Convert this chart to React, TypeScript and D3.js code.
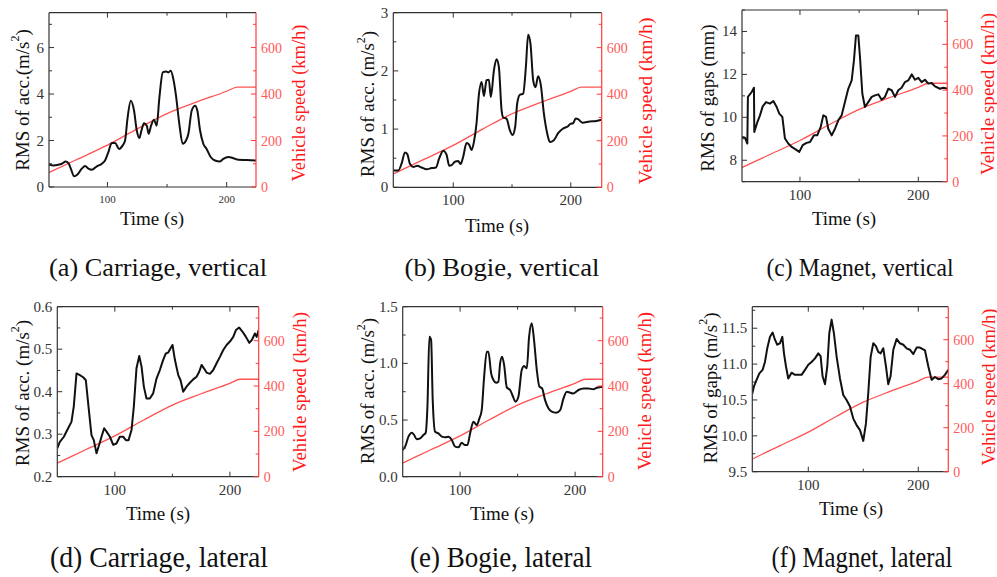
import React from "react";
import * as d3 from "d3";

const W = 997;
const H = 577;
const FONT = "Liberation Serif, Tinos, Times New Roman, Times, serif";
const BLACK = "#111";
const AXIS = "#333";
const RED = "#ff3b3b";
const RED_LINE = "#ff5252";

// vehicle speed (km/h) vs time (s), shared by all panels
const speed: [number, number][] = [
  [45, 48], [50, 60], [75, 120], [100, 180], [125, 250], [150, 316], [175, 366], [200, 412], [209, 430], [230, 430],
];

// (a) carriage vertical, RMS of acc. (m/s^2)
const carriageV: [number, number][] = [
  [51, 0.97], [54.7, 0.93], [58.9, 0.96], [61.7, 1.0], [65, 1.1], [67.3, 1.03], [69.3, 0.79], [72.1, 0.46],
  [74.9, 0.54], [78.5, 0.79], [81.3, 0.9], [84.1, 0.79], [86.9, 0.74], [91.1, 0.89], [95.3, 1.0], [98, 1.14],
  [100.8, 1.5], [103.6, 1.89], [106.4, 1.89], [109.8, 1.64], [112.8, 1.79], [114.8, 2.0], [116.8, 2.93],
  [119.6, 3.71], [122.3, 3.29], [124.6, 2.43], [126.8, 2.11], [128.5, 2.43], [130.7, 2.74], [133, 2.64],
  [134.6, 2.29], [136.6, 2.64], [139.1, 2.89], [141.3, 2.64], [143.6, 3.86], [146.4, 4.93], [149.2, 4.97],
  [151.1, 4.93], [153.1, 5.0], [155.3, 4.64], [157.5, 3.93], [160.3, 2.71], [163.1, 1.86], [165.9, 2.0],
  [167.9, 2.29], [170.7, 3.29], [173.5, 3.5], [175.4, 3.29], [177.7, 2.43], [180.4, 1.86], [183.2, 1.64],
  [186.6, 1.29], [190.2, 1.14], [194.4, 1.1], [197.2, 1.21], [201.4, 1.29], [205.6, 1.24], [209.8, 1.17],
  [216.8, 1.16], [225, 1.14],
];

// (b) bogie vertical
const bogieV: [number, number][] = [
  [49, 0.29], [53.3, 0.29], [56.1, 0.41], [58.9, 0.6], [60.9, 0.57], [63.2, 0.4], [66, 0.35], [69.4, 0.37],
  [73.1, 0.34], [77.3, 0.31], [81.6, 0.33], [85.3, 0.34], [88.1, 0.5], [91.5, 0.63], [94.3, 0.56], [96.6, 0.37],
  [98.6, 0.38], [101.4, 0.44], [104.2, 0.45], [106.2, 0.4], [108.5, 0.53], [111.3, 0.76], [113.6, 0.73],
  [115.6, 0.64], [117.6, 0.78], [119.8, 1.1], [121.8, 1.59], [124.1, 1.81], [126.1, 1.57], [128.3, 1.84],
  [130.3, 1.85], [132, 1.55], [134.6, 2.01], [136.8, 2.2], [138.8, 2.07], [141.1, 1.33], [142.5, 1.2],
  [145.3, 1.18], [148.2, 0.98], [150.4, 0.9], [152.7, 1.04], [154.4, 1.44], [156.7, 1.59], [159.5, 1.61],
  [161.8, 2.07], [163.7, 2.62], [165.7, 2.47], [168, 1.84], [170, 1.72], [172.2, 1.91], [174.5, 1.76],
  [177.1, 1.27], [179.9, 0.93], [182.2, 0.78], [185.6, 0.81], [189.2, 0.93], [193.5, 1.01], [197.7, 1.05],
  [199.7, 1.09], [202, 1.1], [204.2, 1.18], [206.2, 1.17], [209.9, 1.11], [216.1, 1.13], [221.8, 1.14], [226, 1.16],
];

// (c) magnet vertical, RMS of gaps (mm)
const magnetV: [number, number][] = [
  [51, 9.09], [53.5, 9.05], [55.5, 8.78], [56, 10.95], [59.2, 11.18], [61.1, 11.38], [61.4, 9.32], [64, 9.78],
  [66.2, 10.09], [68.5, 10.51], [71.3, 10.71], [74.6, 10.64], [77.5, 10.76], [80.3, 10.48], [82.5, 10.17],
  [85.1, 10.02], [87.3, 9.01], [90.1, 8.78], [93, 8.62], [97.2, 8.47], [99.4, 8.39], [102.3, 8.7], [105.6, 8.81],
  [108.5, 8.85], [111.8, 9.16], [114.6, 9.16], [117.5, 9.55], [119.7, 10.09], [122, 10.02], [123.9, 9.47],
  [126.8, 9.16], [129.6, 9.47], [132.4, 9.86], [135.2, 10.09], [138, 10.71], [140.8, 11.33], [143.7, 11.72],
  [145.6, 12.65], [147.3, 13.81], [149.3, 13.81], [150.7, 12.81], [152.7, 11.1], [154.9, 10.48], [157.7, 10.71],
  [160.6, 10.95], [163.4, 11.02], [166.2, 11.07], [169, 10.82], [171.8, 10.95], [174.6, 11.33], [177.5, 11.26],
  [180.3, 10.95], [183.1, 11.26], [185.9, 11.38], [188.7, 11.64], [191.5, 11.72], [194.4, 12.0], [197.2, 11.75],
  [200, 11.84], [202.8, 11.64], [205.6, 11.75], [208.5, 11.57], [211.3, 11.6], [214.1, 11.44], [218.3, 11.33],
  [221.1, 11.38], [225, 11.33],
];

// (d) carriage lateral
const carriageL: [number, number][] = [
  [50, 0.267], [52.2, 0.282], [55.7, 0.294], [59.4, 0.314], [62.3, 0.329], [64.3, 0.365], [66.7, 0.443],
  [69.6, 0.439], [72.5, 0.434], [74.8, 0.427], [76.8, 0.373], [79.7, 0.298], [81.7, 0.286], [84.1, 0.255],
  [86.4, 0.275], [88.4, 0.294], [90.7, 0.314], [92.8, 0.306], [95.7, 0.294], [98.6, 0.275], [101.4, 0.278],
  [104.3, 0.294], [107.2, 0.294], [109.6, 0.286], [111.9, 0.286], [114.5, 0.31], [116.5, 0.365], [118.8, 0.455],
  [121.2, 0.484], [123.2, 0.459], [125.2, 0.412], [127.5, 0.384], [130.4, 0.384], [133.3, 0.396], [136.2, 0.431],
  [139.1, 0.451], [142, 0.475], [144.3, 0.49], [146.4, 0.492], [148.4, 0.502], [150.1, 0.51], [152.2, 0.475],
  [155.1, 0.439], [157.1, 0.427], [159.4, 0.4], [162.3, 0.412], [165.2, 0.421], [168.1, 0.429], [171, 0.435],
  [173.3, 0.447], [175.4, 0.463], [177.4, 0.455], [179.7, 0.445], [182.6, 0.442], [185.5, 0.451], [188.4, 0.467],
  [191.3, 0.482], [194.2, 0.498], [197.1, 0.51], [200, 0.518], [202.9, 0.529], [205.2, 0.545], [208.1, 0.551],
  [211, 0.541], [213.9, 0.529], [216.8, 0.515], [219.1, 0.522], [221.7, 0.537], [223.2, 0.529], [225, 0.545],
];

// (e) bogie lateral
const bogieL: [number, number][] = [
  [50, 0.235], [52.2, 0.265], [55.1, 0.353], [58, 0.388], [60, 0.368], [62.3, 0.33], [65.2, 0.338], [68.1, 0.368],
  [70.1, 0.388], [71.6, 0.618], [73.3, 1.235], [74.8, 1.206], [76.2, 0.676], [78.3, 0.397], [81.2, 0.382],
  [84.1, 0.353], [87, 0.347], [89.9, 0.353], [92.8, 0.324], [95.7, 0.265], [98.6, 0.259], [101.4, 0.3],
  [104.3, 0.279], [106.4, 0.279], [108.7, 0.382], [111.6, 0.485], [114.5, 0.456], [116.8, 0.515], [118.8, 0.588],
  [120.9, 0.882], [123.2, 1.103], [124.6, 1.103], [127, 0.912], [129, 0.853], [131.3, 0.829], [133.3, 0.838],
  [134.8, 1.0], [136.5, 1.059], [138.3, 0.985], [140.6, 0.788], [143.5, 0.765], [145.8, 0.712], [148.1, 0.662],
  [150.7, 0.706], [153.6, 0.941], [155.7, 0.976], [158, 0.956], [160, 1.235], [162.3, 1.353], [164.3, 1.206],
  [166.7, 0.941], [169, 0.794], [171.3, 0.779], [173.9, 0.676], [176.8, 0.603], [179.7, 0.574], [183.5, 0.565],
  [187, 0.588], [189.9, 0.691], [192.8, 0.75], [195.7, 0.741], [198.6, 0.735], [202.9, 0.765], [207.2, 0.779],
  [211.6, 0.779], [215.9, 0.771], [218.8, 0.785], [224, 0.794],
];

// (f) magnet lateral
const magnetL: [number, number][] = [
  [49.1, 10.59], [50.6, 10.69], [53, 10.78], [55.5, 10.87], [58.5, 10.92], [60.6, 11.03], [62.7, 11.22],
  [65.2, 11.38], [67.6, 11.44], [69.7, 11.34], [71.8, 11.27], [74.2, 11.29], [76.4, 11.38], [77.9, 11.15],
  [79.7, 10.97], [81.8, 10.8], [84.8, 10.88], [87.9, 10.85], [90.9, 10.85], [93.9, 10.85], [97, 10.92],
  [100, 10.99], [103, 11.03], [106.1, 11.08], [109.1, 11.15], [111.2, 11.11], [113, 10.83], [115.2, 10.72],
  [117.3, 10.97], [119.1, 11.43], [121.2, 11.62], [123.3, 11.43], [125.8, 11.1], [128.8, 10.8], [131.8, 10.57],
  [134.8, 10.5], [137.9, 10.41], [140.9, 10.24], [143.9, 10.15], [147, 10.08], [150, 9.93], [152.4, 10.17],
  [154.5, 10.59], [156.7, 11.1], [159.1, 11.29], [161.5, 11.25], [163.6, 11.17], [165.8, 11.15], [168.2, 11.22],
  [170.6, 10.97], [172.7, 10.72], [174.8, 10.83], [177.3, 11.2], [180.3, 11.35], [183.3, 11.29], [186.4, 11.27],
  [189.4, 11.22], [192.4, 11.2], [195.5, 11.14], [198.5, 11.23], [201.5, 11.23], [206.1, 11.19], [209.1, 10.97],
  [212.1, 10.78], [215.2, 10.82], [218.2, 10.79], [221.2, 10.8], [224.2, 10.85], [227.3, 10.92],
];

const timeTicks = [100, 200];
const timeMinor = [150];
const speedTicks = [0, 200, 400, 600];
const speedMinor = [100, 300, 500, 700];

const captions = [
  "(a) Carriage, vertical", "(b) Bogie, vertical", "(c) Magnet, vertical",
  "(d) Carriage, lateral", "(e) Bogie, lateral", "(f) Magnet, lateral",
];

type Panel = {
  data: [number, number][];
  xDomain: [number, number];
  yDomain: [number, number];
  yTicks: number[];
  yMinor: number[];
  yFmt: (v: number) => string;
  yTitle: string;
  smooth: boolean;
  // layout
  box: [number, number, number, number];
  yTitleX: number;
  yTitleY: number;
  vTitleX: number;
  vTitleY: number;
  vTitleLen: number;
  tTitleX: number;
  tTitleY: number;
  xTickSize: number;
};

const panels: Panel[] = [
  {
    data: carriageV, xDomain: [51, 224.6], yDomain: [0, 7.5], yTicks: [0, 2, 4, 6], yMinor: [1, 3, 5, 7],
    yFmt: d3.format("d"), yTitle: "RMS of acc.(m/s", smooth: true,
    box: [49, 12.7, 256, 187], yTitleX: 22, yTitleY: 100,
    vTitleX: 298, vTitleY: 103, vTitleLen: 157, tTitleX: 152, tTitleY: 225, xTickSize: 11,
  },
  {
    data: bogieV, xDomain: [49, 226.3], yDomain: [0, 3], yTicks: [0, 1, 2, 3], yMinor: [0.5, 1.5, 2.5],
    yFmt: d3.format("d"), yTitle: "RMS of acc. (m/s", smooth: true,
    box: [393.3, 12.7, 601.7, 187.3], yTitleX: 367.5, yTitleY: 104,
    vTitleX: 645, vTitleY: 101, vTitleLen: 167, tTitleX: 497, tTitleY: 232, xTickSize: 15,
  },
  {
    data: magnetV, xDomain: [51, 224.5], yDomain: [7, 15], yTicks: [8, 10, 12, 14], yMinor: [7, 9, 11, 13, 15],
    yFmt: d3.format("d"), yTitle: "RMS of gaps (mm)", smooth: false,
    box: [742, 10, 947.3, 181.7], yTitleX: 707.5, yTitleY: 98,
    vTitleX: 987.5, vTitleY: 94, vTitleLen: 162, tTitleX: 844, tTitleY: 225, xTickSize: 15,
  },
  {
    data: carriageL, xDomain: [50, 225], yDomain: [0.2, 0.6], yTicks: [0.2, 0.3, 0.4, 0.5, 0.6], yMinor: [0.25, 0.35, 0.45, 0.55],
    yFmt: d3.format(".1f"), yTitle: "RMS of acc. (m/s", smooth: false,
    box: [57.3, 306.7, 258.7, 476.7], yTitleX: 22, yTitleY: 393,
    vTitleX: 299, vTitleY: 392, vTitleLen: 160, tTitleX: 158, tTitleY: 520, xTickSize: 15,
  },
  {
    data: bogieL, xDomain: [50.1, 224], yDomain: [0, 1.5], yTicks: [0, 0.5, 1, 1.5], yMinor: [0.25, 0.75, 1.25],
    yFmt: d3.format(".1f"), yTitle: "RMS of acc. (m/s", smooth: true,
    box: [402.7, 306.7, 602.7, 476.7], yTitleX: 367.5, yTitleY: 391,
    vTitleX: 644, vTitleY: 391, vTitleLen: 158, tTitleX: 502, tTitleY: 520, xTickSize: 15,
  },
  {
    data: magnetL, xDomain: [49.1, 227.3], yDomain: [9.5, 11.8], yTicks: [9.5, 10, 10.5, 11, 11.5], yMinor: [9.75, 10.25, 10.75, 11.25, 11.75],
    yFmt: d3.format(".1f"), yTitle: "RMS of gaps (m/s", smooth: false,
    box: [752.3, 306.7, 948.3, 471.7], yTitleX: 710, yTitleY: 388,
    vTitleX: 988, vTitleY: 387, vTitleLen: 157, tTitleX: 851, tTitleY: 515, xTickSize: 15,
  },
];

const captionPos = [
  { x: 158, y: 276, len: 218, size: 26 },
  { x: 502, y: 276, len: 195, size: 26 },
  { x: 860, y: 276, len: 187, size: 26 },
  { x: 159, y: 567, len: 218, size: 29 },
  { x: 501, y: 567, len: 182, size: 29 },
  { x: 862, y: 567, len: 181, size: 29 },
];

function Chart({ p, idx }: { p: Panel; idx: number }) {
  const [l, t, r, b] = p.box;
  const x = d3.scaleLinear().domain(p.xDomain).range([l, r]);
  const y = d3.scaleLinear().domain(p.yDomain).range([b, t]);
  const ys = d3.scaleLinear().domain([0, 750]).range([b, t]);
  const line = d3.line<[number, number]>().x((d) => x(d[0])).y((d) => y(d[1]))
    .curve(p.smooth ? d3.curveMonotoneX : d3.curveLinear);
  const sLine = d3.line<[number, number]>().x((d) => x(d[0])).y((d) => ys(d[1])).curve(d3.curveMonotoneX);
  const clip = `clip${idx}`;
  const tk = 5;
  const hasSup = p.yTitle.endsWith("(m/s");
  return (
    <g>
      <defs>
        <clipPath id={clip}>
          <rect x={l} y={t} width={r - l} height={b - t} />
        </clipPath>
      </defs>
      <g clipPath={`url(#${clip})`}>
        <path d={sLine(speed) || ""} fill="none" stroke={RED_LINE} strokeWidth={1.3} />
        <path d={line(p.data) || ""} fill="none" stroke={BLACK} strokeWidth={2} strokeLinejoin="round" />
      </g>
      {/* frame */}
      <line x1={l} x2={l} y1={t} y2={b} stroke={AXIS} strokeWidth={1.2} />
      <line x1={l} x2={r} y1={b} y2={b} stroke={AXIS} strokeWidth={1.2} />
      <line x1={l} x2={r} y1={t} y2={t} stroke={AXIS} strokeWidth={1.2} />
      <line x1={r} x2={r} y1={t} y2={b} stroke={RED} strokeWidth={1.2} />
      {/* x ticks, bottom and top */}
      {timeTicks.map((v) => (
        <g key={"xt" + v}>
          <line x1={x(v)} x2={x(v)} y1={b} y2={b - tk} stroke={AXIS} />
          <line x1={x(v)} x2={x(v)} y1={t} y2={t + tk} stroke={AXIS} />
          <text x={x(v)} y={b + (p.xTickSize < 14 ? 16 : 18)} fontSize={p.xTickSize} textAnchor="middle" fill={AXIS}>{v}</text>
        </g>
      ))}
      {timeMinor.map((v) => (
        <g key={"xm" + v}>
          <line x1={x(v)} x2={x(v)} y1={b} y2={b - 3} stroke={AXIS} />
          <line x1={x(v)} x2={x(v)} y1={t} y2={t + 3} stroke={AXIS} />
        </g>
      ))}
      {/* left y ticks */}
      {p.yTicks.map((v) => (
        <g key={"yt" + v}>
          <line x1={l} x2={l + tk} y1={y(v)} y2={y(v)} stroke={AXIS} />
          <text x={l - 5} y={y(v) + 5} fontSize={15} textAnchor="end" fill={AXIS}>{p.yFmt(v)}</text>
        </g>
      ))}
      {p.yMinor.map((v) => (
        <line key={"ym" + v} x1={l} x2={l + 3} y1={y(v)} y2={y(v)} stroke={AXIS} />
      ))}
      {/* right speed ticks */}
      {speedTicks.map((v) => (
        <g key={"st" + v}>
          <line x1={r} x2={r - tk} y1={ys(v)} y2={ys(v)} stroke={RED} />
          <text x={r + 5} y={ys(v) + 5} fontSize={14} fill="#ff5a5a">{v}</text>
        </g>
      ))}
      {speedMinor.map((v) => (
        <line key={"sm" + v} x1={r} x2={r - 3} y1={ys(v)} y2={ys(v)} stroke={RED} />
      ))}
      {/* titles */}
      <text transform={`translate(${p.yTitleX},${p.yTitleY}) rotate(-90)`} textAnchor="middle"
        dominantBaseline="central" fontSize={19} fill={BLACK}>
        {p.yTitle}
        {hasSup && <tspan baselineShift="super" fontSize={12}>2</tspan>}
        {hasSup && <tspan>)</tspan>}
      </text>
      <text transform={`translate(${p.vTitleX},${p.vTitleY}) rotate(-90)`} textAnchor="middle"
        dominantBaseline="central" fontSize={19} fill="#ff1a1a" textLength={p.vTitleLen} lengthAdjust="spacingAndGlyphs">
        Vehicle speed (km/h)
      </text>
      <text x={p.tTitleX} y={p.tTitleY} textAnchor="middle" fontSize={19} fill={BLACK}>Time (s)</text>
      <text x={captionPos[idx].x} y={captionPos[idx].y} textAnchor="middle" fontSize={captionPos[idx].size}
        fill={BLACK} textLength={captionPos[idx].len} lengthAdjust="spacingAndGlyphs">
        {captions[idx]}
      </text>
    </g>
  );
}

export default function App() {
  return (
    <svg width={W} height={H} style={{ position: "absolute", left: 0, top: 0, background: "#fff", fontFamily: FONT }}>
      {panels.map((p, i) => (
        <Chart key={i} p={p} idx={i} />
      ))}
    </svg>
  );
}
